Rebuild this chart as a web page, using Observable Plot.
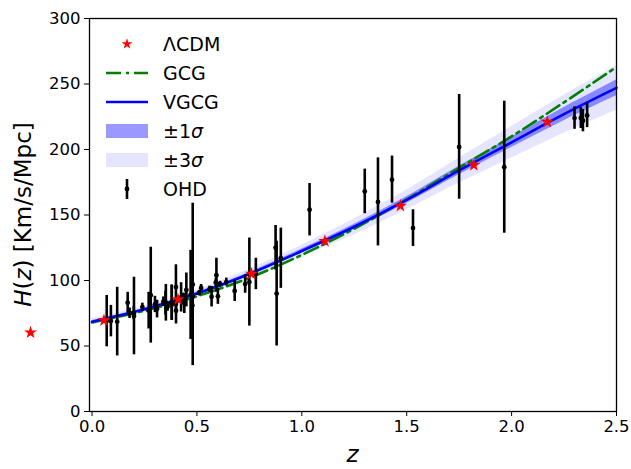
<!DOCTYPE html>
<html>
<head>
<meta charset="utf-8">
<script src="https://cdn.jsdelivr.net/npm/d3@7"></script>
<script src="https://cdn.jsdelivr.net/npm/@observablehq/plot@0.6"></script>
<style>
  html, body { margin: 0; padding: 0; background: white; }
</style>
</head>
<body>
<div id="chart"></div>
<script>
// OHD data (z, H, sigma)
const ohdZ = [0.07,0.09,0.12,0.17,0.179,0.199,0.2,0.27,0.28,0.352,0.38,0.3802,0.4,0.4004,0.4247,0.4497,0.47,0.4783,0.48,0.593,0.68,0.75,0.781,0.875,0.88,0.9,1.037,1.3,1.363,1.43,1.53,1.75,1.965,
  0.24,0.30,0.31,0.34,0.35,0.36,0.38,0.40,0.43,0.44,0.48,0.51,0.52,0.56,0.57,0.59,0.60,0.61,0.64,0.73,2.30,2.33,2.34,2.36];
const ohdH = [69,69,68.6,83,75,75,72.9,77,88.8,83,83,83,95,77,87.1,92.8,89,80.9,97,104,92,98.8,105,125,90,117,154,168,160,177,140,202,186.5,
  79.69,81.7,78.17,83.8,82.7,79.93,81.5,82.04,86.45,82.6,87.79,90.4,94.35,93.34,87.6,98.48,87.9,97.3,98.82,97.3,224,224,222,226];
const ohdS = [19.6,12,26.2,8,4,5,29.6,14,36.6,14,13.5,13.5,17,10.2,11.2,12.9,34,9,62,13,8,33.6,12,17,40,23,20,17,33.6,18,14,40,50.4,
  2.99,6.22,6.74,3.66,9.1,3.39,1.9,2.03,3.68,7.8,2.03,1.9,2.64,2.3,7.8,3.18,6.1,2.1,2.98,7.0,8.6,8,8.5,9.3];

// LambdaCDM stars
const lcdmZ = [-0.293,0.057,0.41,0.76,1.11,1.47,1.82,2.17];
const lcdmH = [60.3,69.5,85.5,105,130,157,188,221];

// Model curves
const modelZ = [0,0.25,0.5,0.75,1.0,1.25,1.5,1.75,2.0,2.25,2.5];
const vgcgH  = [68.5,78,90,105,122.5,141,161.5,184,205.5,227,247];
const gcgH   = [68,77,88,102,119.5,139.5,162,186,210,236,263];
const sig1   = [0.8,0.8,1,1.2,1.5,2,2.5,3.2,4,5,6];
const sig3   = [2.4,2.4,3,3.6,4.5,6,7.5,9.6,12,14.5,17];

const xTicks = [0,0.5,1.0,1.5,2.0,2.5];
const yTicks = [0,50,100,150,200,250,300];

const ohd = ohdZ.map((z,i)=>({z, h: ohdH[i], s: ohdS[i]}));
const lcdm = lcdmZ.map((z,i)=>({z, h: lcdmH[i]}));
const model = modelZ.map((z,i)=>({z, v: vgcgH[i], g: gcgH[i],
  lo1: vgcgH[i]-sig1[i], hi1: vgcgH[i]+sig1[i], lo3: vgcgH[i]-sig3[i], hi3: vgcgH[i]+sig3[i]}));

const W = 631, H = 469, mL = 89, mR = 15, mT = 18, mB = 58;

const plot = Plot.plot({
  width: W, height: H,
  marginLeft: mL, marginRight: mR, marginTop: mT, marginBottom: mB,
  style: {fontFamily: "DejaVu Sans", fontSize: "16.5px", color: "black", background: "white", overflow: "visible"},
  x: {domain: [-0.012, 2.5], ticks: xTicks, tickFormat: d3.format(".1f"), tickSize: 5, tickPadding: 4, label: null},
  y: {domain: [0, 300], ticks: yTicks, tickSize: 5, tickPadding: 4, label: null},
  marks: [
    Plot.areaY(model, {x: "z", y1: "lo3", y2: "hi3", fill: "blue", fillOpacity: 0.1, curve: "catmull-rom"}),
    Plot.areaY(model, {x: "z", y1: "lo1", y2: "hi1", fill: "blue", fillOpacity: 0.4, curve: "catmull-rom"}),
    Plot.line(model, {x: "z", y: "g", stroke: "green", strokeWidth: 2.6, strokeDasharray: "15,5,3,5", curve: "catmull-rom"}),
    Plot.line(model, {x: "z", y: "v", stroke: "blue", strokeWidth: 2.6, curve: "catmull-rom"}),
    Plot.ruleX(ohd, {x: "z", y1: d => d.h - d.s, y2: d => d.h + d.s, stroke: "black", strokeWidth: 2.6}),
    Plot.dot(ohd, {x: "z", y: "h", r: 2.4, fill: "black"}),
    Plot.dot(lcdm, {x: "z", y: "h", symbol: "star", r: 4.1, fill: "red", stroke: "none"}),
    Plot.frame({stroke: "black", strokeWidth: 1.3})
  ]
});

document.getElementById("chart").appendChild(plot);

const svg = d3.select(plot);
const font = "DejaVu Sans";

// axis labels
svg.append("text")
  .attr("x", (mL + W - mR) / 2).attr("y", 462)
  .attr("text-anchor", "middle")
  .attr("font-family", font).attr("font-size", 23).attr("font-style", "italic")
  .attr("fill", "black")
  .text("z");

const yl = svg.append("text")
  .attr("transform", `translate(31,${(mT + H - mB) / 2}) rotate(-90)`)
  .attr("text-anchor", "middle")
  .attr("font-family", font).attr("font-size", 23).attr("fill", "black");
yl.append("tspan").attr("font-style", "italic").text("H");
yl.append("tspan").text("(");
yl.append("tspan").attr("font-style", "italic").text("z");
yl.append("tspan").text(") [Km/s/Mpc]");

// legend
const legLabels = ["ΛCDM", "GCG", "VGCG", "±1σ", "±3σ", "OHD"];
const lg = svg.append("g");
const rowY = i => 44 + i * 29;
const hx0 = 106, hx1 = 148, tx = 163;
legLabels.forEach((lab, i) => {
  const y = rowY(i);
  const t = lg.append("text").attr("x", tx).attr("y", y).attr("dy", "0.36em")
    .attr("text-anchor", "start")
    .attr("font-family", font).attr("font-size", 19).attr("fill", "black");
  if (lab.includes("σ")) {
    t.append("tspan").text(lab.slice(0, -1));
    t.append("tspan").attr("font-style", "italic").text("σ");
  } else t.text(lab);
});
lg.append("path").attr("d", d3.symbol(d3.symbolStar, 36)()).attr("transform", `translate(127,${rowY(0)})`).attr("fill", "red");
lg.append("line").attr("x1", hx0).attr("x2", hx1).attr("y1", rowY(1)).attr("y2", rowY(1))
  .attr("stroke", "green").attr("stroke-width", 2.6).attr("stroke-dasharray", "15,5,3,5");
lg.append("line").attr("x1", hx0).attr("x2", hx1).attr("y1", rowY(2)).attr("y2", rowY(2))
  .attr("stroke", "blue").attr("stroke-width", 2.6);
lg.append("rect").attr("x", hx0).attr("y", rowY(3) - 7).attr("width", hx1 - hx0).attr("height", 14)
  .attr("fill", "blue").attr("fill-opacity", 0.4);
lg.append("rect").attr("x", hx0).attr("y", rowY(4) - 7).attr("width", hx1 - hx0).attr("height", 14)
  .attr("fill", "blue").attr("fill-opacity", 0.1);
lg.append("line").attr("x1", 127).attr("x2", 127).attr("y1", rowY(5) - 10).attr("y2", rowY(5) + 10)
  .attr("stroke", "black").attr("stroke-width", 2.6);
lg.append("circle").attr("cx", 127).attr("cy", rowY(5)).attr("r", 2.4).attr("fill", "black");
</script>
</body>
</html>
